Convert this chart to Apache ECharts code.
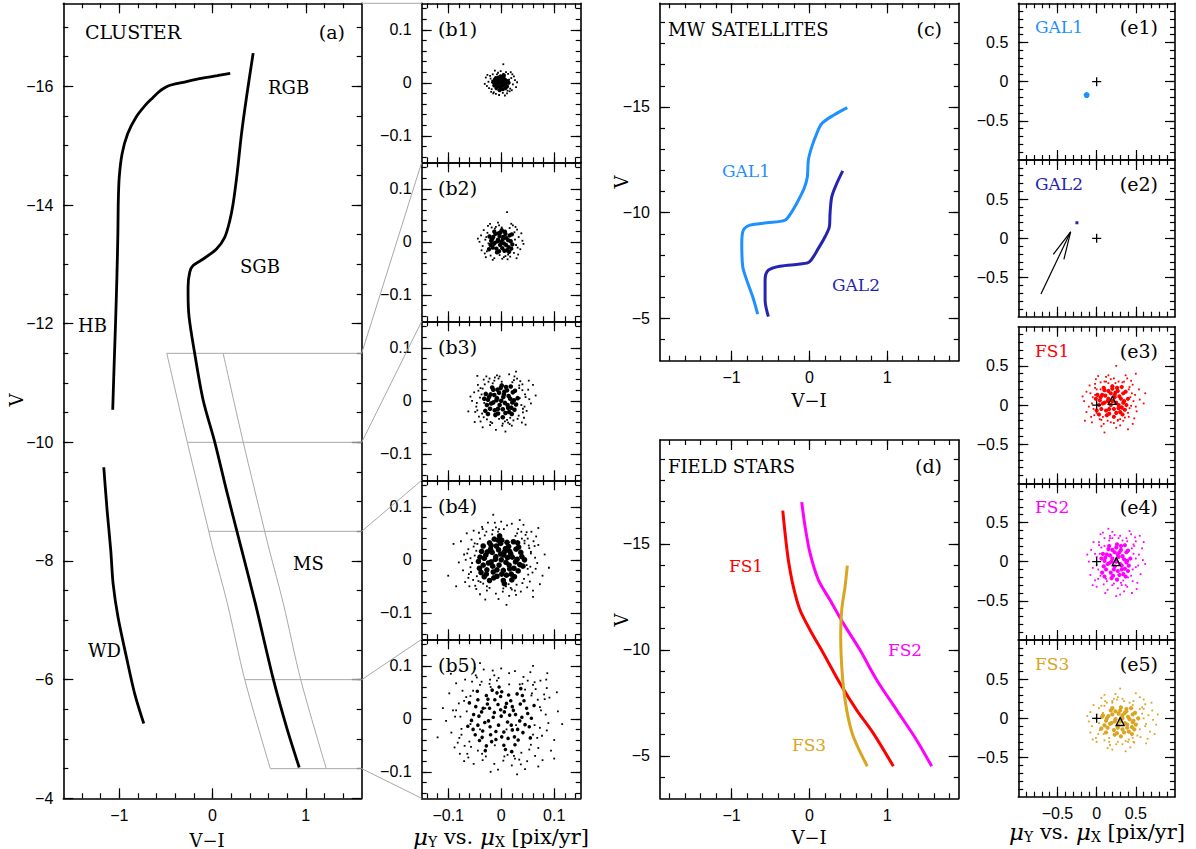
<!DOCTYPE html>
<html><head><meta charset="utf-8">
<script src="https://cdn.jsdelivr.net/npm/echarts@6.0.0/dist/echarts.min.js"></script>
<style>html,body{margin:0;padding:0;background:#fff}#c{width:1196px;height:849px}</style>
</head><body><div id="c"></div><script>
// ---------------- DATA ----------------
// Panel (a) CLUSTER: [V-I, V]
const aXRange = [-1.6, 1.6];
const aYRange = [-17.4, -4];
const aXLabels = [-1, 0, 1];
const aYLabels = [-16, -14, -12, -10, -8, -6, -4];
const aHB = [[0.19,-16.22],[0.05,-16.18],[-0.14,-16.13],[-0.28,-16.08],[-0.4,-16.04],[-0.47,-16.01],[-0.53,-15.96],[-0.58,-15.9],[-0.64,-15.81],[-0.71,-15.7],[-0.82,-15.48],[-0.91,-15.2],[-0.97,-14.86],[-1.0,-14.47],[-1.01,-14.08],[-1.015,-13.5],[-1.025,-12.8],[-1.04,-12.0],[-1.055,-11.3],[-1.07,-10.55]];
const aMain = [[0.436,-16.56],[0.365,-15.82],[0.311,-15.2],[0.264,-14.53],[0.221,-14.02],[0.186,-13.74],[0.132,-13.46],[0.043,-13.26],[-0.1,-13.09],[-0.208,-12.98],[-0.244,-12.87],[-0.262,-12.62],[-0.262,-12.5],[-0.251,-12.11],[-0.19,-11.49],[-0.1,-10.71],[0.025,-10.0],[0.15,-9.19],[0.311,-8.2],[0.46,-7.28],[0.65,-6.02],[0.794,-5.2],[0.93,-4.52]];
const aWD = [[-1.166,-9.58],[-1.13,-8.85],[-1.091,-8.18],[-1.066,-7.62],[-1.013,-7.05],[-0.923,-6.38],[-0.834,-5.76],[-0.737,-5.26]];
const aBoxLeft = [[-0.49,-11.5],[-0.27,-10],[-0.04,-8.5],[0.006,-8.2],[0.16,-7.28],[0.346,-6.0],[0.62,-4.5]];
const aBoxRight = [[0.114,-11.5],[0.33,-10],[0.56,-8.5],[0.607,-8.2],[0.76,-7.28],[0.946,-6.0],[1.22,-4.5]];
const aLevels = [-11.5, -10, -8.5, -6, -4.5];
const aLevelLeftX = [-0.49, -0.27, -0.04, 0.346, 0.62];

// Panels (b1)-(b5): proper motions [pix/yr]
const bRange = [-0.15, 0.15];
const bLabels = [-0.1, 0, 0.1];
const b1Core = [[-0.003,0.0],[0.002,0.003],[-0.008,0.004],[0.005,-0.004],[-0.006,-0.006],[0.0,0.008],[-0.011,-0.001],[0.007,0.006],[-0.002,-0.009],[0.009,-0.001],[-0.005,0.01],[0.004,0.011],[-0.012,0.006],[0.011,-0.007],[-0.009,-0.01],[0.001,-0.005],[-0.004,0.005],[0.006,0.0],[-0.013,-0.005],[0.012,0.003],[-0.001,0.012],[0.003,-0.012],[-0.007,0.0],[0.008,-0.01],[-0.01,0.009],[0.0,-0.001],[-0.015,0.001],[0.014,0.0],[-0.003,-0.014],[0.005,0.014]];
const b1Halo = [[-0.02,0.008],[0.017,-0.011],[-0.018,-0.012],[0.019,0.009],[-0.024,0.002],[0.022,-0.003],[-0.006,0.019],[0.003,-0.019],[-0.016,0.016],[0.013,0.017],[-0.014,-0.018],[0.016,-0.016],[-0.027,-0.006],[0.026,0.005],[-0.01,-0.021],[0.009,0.02],[-0.021,0.013],[0.02,-0.014],[-0.029,0.01],[0.024,0.012],[-0.001,0.022],[-0.004,-0.023],[0.018,0.02],[-0.019,-0.017],[0.028,-0.008],[-0.031,-0.002],[0.007,-0.024],[-0.012,0.023],[0.015,0.006],[-0.017,0.004],[0.011,-0.02],[-0.023,-0.01],[0.021,0.016],[-0.008,0.016],[0.004,0.017],[-0.026,0.015],[0.03,0.001],[-0.015,-0.02],[0.012,-0.015],[0.004,0.035]];
const b2Core = [[0,0],[-0.006,0.004],[0.005,-0.003],[-0.012,-0.002],[0.01,0.007],[-0.003,0.011],[0.002,-0.012],[-0.015,0.009],[0.014,-0.01],[-0.009,-0.013],[0.008,0.015],[-0.019,0.002],[0.018,0.001],[-0.001,0.018],[-0.004,-0.018],[0.013,0.003],[-0.011,0.015],[0.016,0.012],[-0.016,-0.011],[0.006,-0.017],[-0.007,0.001],[0.003,0.005],[-0.02,-0.006],[0.021,-0.005],[-0.002,-0.006],[0.011,-0.016],[-0.013,0.019],[0.001,0.022],[-0.022,0.01],[0.02,0.014],[-0.008,-0.02],[0.015,-0.019],[0.009,-0.006],[-0.017,0.005],[0.004,0.009],[-0.005,0.016],[0.019,-0.013],[-0.023,-0.014],[0.007,0.019],[-0.014,-0.004]];
const b2Halo = [[-0.03,0.004],[0.028,-0.006],[-0.026,0.017],[0.025,0.018],[-0.027,-0.018],[0.024,-0.021],[-0.01,0.028],[0.008,-0.027],[-0.035,-0.008],[0.033,0.009],[-0.018,0.027],[0.016,0.026],[-0.02,-0.026],[0.017,-0.028],[-0.038,0.012],[0.036,-0.014],[-0.004,0.031],[0.002,-0.032],[-0.031,-0.022],[0.03,0.023],[-0.041,0.0],[0.04,0.002],[-0.025,0.03],[0.022,0.031],[-0.013,-0.031],[0.012,-0.033],[-0.033,0.022],[0.032,-0.024],[-0.006,0.036],[0.005,-0.029],[-0.029,-0.029],[0.027,0.028],[-0.037,-0.016],[0.038,0.016],[-0.021,0.034],[0.029,-0.031],[-0.044,0.006],[0.042,-0.004],[-0.016,-0.034],[0.019,0.034],[0.011,0.056],[-0.024,-0.003],[0.026,0.004],[-0.012,0.025],[0.013,-0.024],[-0.028,0.009],[0.031,-0.011],[-0.003,-0.025],[0.001,0.027]];
const b3Core = [[0,0],[-0.008,0.005],[0.007,-0.004],[-0.015,-0.003],[0.014,0.009],[-0.004,0.015],[0.003,-0.016],[-0.02,0.012],[0.019,-0.013],[-0.012,-0.018],[0.011,0.02],[-0.025,0.002],[0.024,0.001],[-0.001,0.024],[-0.006,-0.024],[0.017,0.004],[-0.015,0.021],[0.022,0.016],[-0.021,-0.015],[0.008,-0.023],[-0.009,0.001],[0.004,0.007],[-0.027,-0.008],[0.028,-0.007],[-0.003,-0.008],[0.015,-0.021],[-0.017,0.025],[0.001,0.029],[-0.029,0.013],[0.026,0.019],[-0.011,-0.027],[0.02,-0.025],[0.012,-0.008],[-0.023,0.007],[0.005,0.012],[-0.007,0.021],[0.025,-0.017],[-0.03,-0.019],[0.009,0.026],[-0.019,-0.005],[0.031,0.005],[-0.032,0.004],[0.003,-0.031],[-0.013,0.011],[0.013,-0.013],[0.018,0.027],[-0.025,-0.025],[-0.006,-0.015],[0.006,0.017],[0.021,-0.003]];
const b3Halo = [[-0.04,0.006],[0.038,-0.008],[-0.035,0.023],[0.034,0.024],[-0.036,-0.024],[0.033,-0.028],[-0.013,0.038],[0.011,-0.036],[-0.047,-0.011],[0.045,0.012],[-0.024,0.036],[0.021,0.035],[-0.027,-0.035],[0.023,-0.037],[-0.051,0.016],[0.048,-0.019],[-0.005,0.042],[0.003,-0.043],[-0.042,-0.03],[0.04,0.031],[-0.055,0.0],[0.053,0.003],[-0.033,0.04],[0.03,0.042],[-0.017,-0.042],[0.016,-0.044],[-0.044,0.03],[0.043,-0.032],[-0.008,0.048],[0.007,-0.039],[-0.039,-0.039],[0.036,0.037],[-0.049,-0.021],[0.051,0.021],[-0.028,0.046],[0.039,-0.041],[-0.058,0.008],[0.056,-0.005],[-0.021,-0.046],[0.025,0.046],[-0.032,-0.004],[0.035,0.005],[-0.016,0.033],[0.017,-0.032],[-0.037,0.012],[0.041,-0.015],[-0.004,-0.034],[0.001,0.036],[0.06,0.03],[-0.05,-0.04],[-0.062,-0.02],[0.028,0.055],[-0.01,-0.055],[0.046,-0.045],[0.065,0.01],[-0.045,0.047],[0.015,0.05],[-0.035,-0.05],[0.052,0.038],[0.008,-0.058],
  [-0.043,0.019],[0.041,-0.022],[-0.02,-0.04],[0.024,0.039],[-0.046,-0.004],[0.046,0.007],[0.002,-0.047],[-0.003,0.046],[-0.033,-0.031],[0.034,0.029],[-0.031,0.031],[0.031,-0.034],[-0.039,0.024],[0.04,0.02],[-0.012,0.044],[0.013,-0.041],[-0.045,-0.018],[0.044,-0.011],[-0.022,0.042],[0.02,-0.047]];
const b4Core = [[0,0],[-0.01,0.006],[0.009,-0.005],[-0.019,-0.004],[0.018,0.011],[-0.005,0.019],[0.004,-0.02],[-0.026,0.015],[0.024,-0.016],[-0.015,-0.023],[0.014,0.025],[-0.032,0.003],[0.03,0.001],[-0.001,0.031],[-0.008,-0.031],[0.021,0.005],[-0.019,0.027],[0.028,0.02],[-0.027,-0.019],[0.01,-0.029],[-0.011,0.001],[0.005,0.009],[-0.034,-0.01],[0.035,-0.009],[-0.004,-0.01],[0.019,-0.027],[-0.022,0.032],[0.001,0.037],[-0.037,0.016],[0.033,0.024],[-0.014,-0.034],[0.025,-0.032],[0.015,-0.01],[-0.029,0.009],[0.006,0.015],[-0.009,0.026],[0.032,-0.021],[-0.038,-0.024],[0.011,0.033],[-0.024,-0.006],[0.039,0.006],[-0.04,0.005],[0.004,-0.039],[-0.017,0.014],[0.016,-0.017],[0.023,0.034],[-0.032,-0.032],[-0.008,-0.019],[0.008,0.021],[0.027,-0.004],[-0.013,0.039],[0.041,-0.012],[-0.043,-0.003],[-0.02,0.02],[0.02,-0.038],[-0.003,0.045],[0.037,0.014],[-0.028,-0.027],[0.012,0.004],[-0.016,-0.012],[0.031,0.032],[-0.034,0.026],[0.001,-0.027],[-0.006,0.037],[0.016,0.016],[-0.041,-0.016],[0.044,0.0],[-0.022,-0.039],[0.006,-0.045],[-0.001,0.011]];
const b4Halo = [[-0.05,0.008],[0.048,-0.01],[-0.045,0.03],[0.044,0.031],[-0.046,-0.031],[0.043,-0.036],[-0.017,0.048],[0.014,-0.046],[-0.058,-0.014],[0.056,0.015],[-0.031,0.046],[0.027,0.045],[-0.034,-0.045],[0.029,-0.047],[-0.062,0.02],[0.059,-0.024],[-0.006,0.053],[0.004,-0.054],[-0.053,-0.038],[0.05,0.04],[-0.067,0.0],[0.064,0.004],[-0.042,0.051],[0.038,0.053],[-0.022,-0.053],[0.02,-0.056],[-0.056,0.038],[0.054,-0.041],[-0.01,0.061],[0.009,-0.05],[-0.049,-0.049],[0.046,0.047],[-0.061,-0.027],[0.063,0.026],[-0.035,0.058],[0.049,-0.052],[-0.07,0.01],[0.068,-0.006],[-0.027,-0.058],[0.032,0.058],[-0.072,-0.02],[0.07,0.028],[-0.052,0.055],[0.057,0.053],[-0.06,-0.05],[0.06,-0.058],[-0.012,0.07],[0.015,-0.068],[-0.076,0.035],[0.078,-0.03],[-0.04,-0.065],[0.042,0.066],[-0.08,-0.005],[0.082,0.01],[0.0,0.072],[-0.005,-0.074],[-0.065,0.05],[0.066,0.044],[-0.068,-0.042],[0.073,-0.046],[0.02,0.068],[-0.025,0.07],[0.028,-0.066],[-0.047,0.017],[0.05,-0.017],[-0.055,-0.006],[0.053,0.022],[-0.039,-0.042],[0.039,0.04],[0.005,0.058],[-0.09,0.03],[0.09,-0.015],[-0.03,-0.075],[0.035,0.075],[-0.1,-0.03],[0.07,0.06],[-0.015,0.085],[0.01,-0.085],[-0.085,-0.05],[0.06,-0.07],
  [-0.052,0.025],[0.051,-0.028],[-0.027,-0.05],[0.03,0.05],[-0.058,0.003],[0.056,0.012],[0.003,-0.06],[-0.004,0.058],[-0.043,-0.04],[0.044,0.036],[-0.04,0.04],[0.04,-0.044],[-0.05,0.031],[0.052,0.027],[-0.016,0.056],[0.018,-0.053],[-0.057,-0.023],[0.055,-0.013],[-0.028,0.053],[0.026,-0.058],[-0.062,-0.034],[0.061,0.035],[-0.036,0.062],[0.037,-0.06],[-0.064,0.012],[0.065,-0.017],[-0.01,-0.064],[0.011,0.065],[-0.047,-0.055],[0.048,0.052]];
const b5Core = [[0,0.005],[-0.013,0.012],[0.012,-0.006],[-0.024,-0.004],[0.023,0.016],[-0.006,0.027],[0.005,-0.025],[-0.034,0.02],[0.031,-0.02],[-0.02,-0.03],[0.018,0.034],[-0.042,0.005],[0.039,0.003],[-0.001,0.042],[-0.01,-0.039],[0.027,0.008],[-0.025,0.037],[0.036,0.028],[-0.035,-0.023],[0.013,-0.037],[-0.015,0.003],[0.006,0.013],[-0.044,-0.012],[0.045,-0.011],[-0.005,-0.012],[0.025,-0.034],[-0.028,0.044],[0.001,0.051],[-0.048,0.023],[0.043,0.034],[-0.018,-0.043],[0.032,-0.04],[0.019,-0.012],[-0.037,0.013],[0.008,0.022],[-0.012,0.036],[0.041,-0.026],[-0.049,-0.03],[0.014,0.045],[-0.031,-0.007],[0.05,0.01],[-0.052,0.008],[0.005,-0.05],[-0.022,0.02],[0.021,-0.021],[0.03,0.047],[-0.041,-0.041],[-0.01,-0.024],[0.01,0.029],[0.035,-0.004],[-0.017,0.054],[0.053,-0.015],[-0.056,-0.003],[-0.026,0.028],[0.026,-0.049],[-0.004,0.06],[0.048,0.02],[-0.036,-0.035],[0.016,0.007],[-0.021,-0.015],[0.04,0.044],[-0.044,0.036],[0.001,-0.034],[-0.008,0.049],[0.021,0.023],[-0.053,-0.02],[0.057,0.001],[-0.028,-0.051],[0.008,-0.058],[-0.001,0.017],[0.055,-0.036],[-0.06,0.03],[0.037,0.057],[-0.045,0.052],[0.062,0.025],[-0.03,-0.06],[0.02,-0.062],[-0.063,-0.014]];
const b5Halo = [[-0.065,0.014],[0.063,-0.012],[-0.058,0.043],[0.057,0.044],[-0.06,-0.043],[0.056,-0.049],[-0.022,0.066],[0.018,-0.062],[-0.075,-0.019],[0.073,0.022],[-0.04,0.064],[0.035,0.065],[-0.044,-0.06],[0.038,-0.064],[-0.08,0.029],[0.077,-0.032],[-0.008,0.072],[0.006,-0.071],[-0.069,-0.051],[0.065,0.056],[-0.087,0.004],[0.084,0.008],[-0.055,0.07],[0.05,0.072],[-0.029,-0.071],[0.026,-0.075],[-0.073,0.053],[0.07,-0.055],[-0.013,0.082],[0.012,-0.068],[-0.064,-0.066],[0.06,0.064],[-0.079,-0.036],[0.082,0.037],[-0.046,0.078],[0.064,-0.07],[-0.091,0.016],[0.089,-0.008],[-0.035,-0.078],[0.042,0.079],[-0.094,-0.026],[0.091,0.04],[-0.068,0.074],[0.074,0.072],[-0.078,-0.066],[0.078,-0.078],[-0.016,0.091],[0.02,-0.088],[-0.098,0.048],[0.1,-0.04],[-0.052,-0.085],[0.055,0.088],[-0.104,-0.004],[0.107,0.014],[0.0,0.095],[-0.006,-0.096],[-0.085,0.067],[0.086,0.058],[-0.088,-0.054],[0.094,-0.06],[0.026,0.09],[-0.033,0.093],[0.037,-0.086],[-0.11,0.02],[0.085,0.074],[-0.02,-0.1],[-0.05,0.095],[0.115,-0.01],[-0.07,-0.08],[0.045,-0.095],[0.06,0.1],[-0.12,-0.035],[0.105,0.05],[-0.095,0.085],[0.07,-0.09],[0.087,0.086],[-0.04,0.105],[0.03,-0.105],[-0.075,0.09],[0.1,-0.075],
  [-0.07,0.034],[0.068,-0.036],[-0.036,-0.066],[0.04,0.066],[-0.077,0.004],[0.075,0.016],[0.004,-0.079],[-0.005,0.077],[-0.057,-0.053],[0.058,0.048],[-0.053,0.053],[0.053,-0.058],[-0.066,0.041],[0.069,0.036],[-0.021,0.074],[0.024,-0.07],[-0.075,-0.03],[0.073,-0.017],[-0.037,0.07],[0.034,-0.077],[-0.082,-0.045],[0.081,0.046],[-0.048,0.082],[0.049,-0.08],[-0.085,0.016],[0.086,-0.022],[-0.013,-0.085],[0.015,0.086],[-0.062,-0.073],[0.063,0.069],[-0.03,0.02],[0.028,-0.012],[-0.012,-0.05],[0.045,0.055],[-0.058,-0.01],[0.06,-0.03],[0.015,0.065],[-0.04,-0.02],[0.01,-0.02],[-0.02,0.06]];

// Panel (c) MW SATELLITES and (d) FIELD STARS: [V-I, V]
const cdXRange = [-1.92, 1.92];
const cdYRange = [-19.9, -3];
const cdXLabels = [-1, 0, 1];
const cdYLabels = [-15, -10, -5];
const cGAL1 = [[0.488,-14.97],[0.31,-14.61],[0.159,-14.21],[0.095,-13.74],[0.031,-13.11],[-0.013,-12.48],[-0.026,-11.69],[-0.068,-11.14],[-0.141,-10.59],[-0.226,-10.04],[-0.312,-9.65],[-0.548,-9.52],[-0.762,-9.41],[-0.848,-9.17],[-0.869,-8.54],[-0.856,-7.44],[-0.805,-6.81],[-0.728,-6.02],[-0.664,-5.2]];
const cGAL2 = [[0.429,-11.98],[0.352,-11.38],[0.288,-10.75],[0.266,-9.96],[0.257,-9.33],[0.202,-8.86],[0.116,-8.31],[0.0,-7.67],[-0.12,-7.57],[-0.377,-7.47],[-0.527,-7.28],[-0.569,-6.81],[-0.569,-5.87],[-0.527,-5.08]];
const dFS1 = [[-0.342,-16.57],[-0.312,-15.5],[-0.27,-14.24],[-0.206,-12.98],[-0.12,-11.88],[0.009,-10.94],[0.18,-9.84],[0.395,-8.42],[0.609,-7.16],[0.823,-6.06],[1.08,-4.51]];
const dFS2 = [[-0.098,-16.97],[-0.055,-15.82],[0.009,-14.56],[0.116,-13.3],[0.266,-12.35],[0.437,-11.25],[0.652,-9.99],[0.866,-8.58],[1.123,-7.16],[1.38,-5.74],[1.573,-4.51]];
const dFS3 = [[0.488,-13.97],[0.459,-12.98],[0.416,-11.88],[0.403,-10.62],[0.429,-8.58],[0.48,-7.16],[0.566,-5.9],[0.745,-4.51]];

// Panels (e1)-(e5): proper motions [pix/yr]
const eRange = [-1, 1];
const eLabels = [-0.5, 0, 0.5];
const eOrigin = [[0, 0]];
const eGAL1 = [[-0.128,-0.171]];
const eGAL2 = [[-0.252,0.199]];
const eArrowShaft = [[-0.711,-0.711],[-0.332,0.084]];
const eArrowHead = [[-0.554,-0.204],[-0.332,0.084],[-0.418,-0.268]];
const eFS1Mean = [[0.2,0.06]];
const eFS2Mean = [[0.25,0.0]];
const eFS3Mean = [[0.3,-0.04]];
const eFS1Core = [[0.2,0.05],[0.15,0.08],[0.25,0.03],[0.1,0.03],[0.29,0.11],[0.18,0.15],[0.22,-0.05],[0.07,0.13],[0.32,-0.03],[0.12,-0.07],[0.27,0.18],[0.04,0.06],[0.35,0.05],[0.2,0.21],[0.16,-0.11],[0.31,0.08],[0.1,0.19],[0.34,0.15],[0.06,-0.05],[0.25,-0.1],[0.14,0.05],[0.23,0.1],[0.03,0.0],[0.38,0.0],[0.18,0.0],[0.3,-0.09],[0.09,0.22],[0.2,0.24],[0.01,0.13],[0.37,0.17],[0.13,-0.13],[0.33,-0.12],[0.28,0.0],[0.05,0.1],[0.23,0.13],[0.15,0.18],[0.36,-0.06],[0.0,-0.07],[0.26,0.22],[0.08,0.02],[0.4,0.08],[-0.01,0.08],[0.22,-0.15],[0.11,0.12],[0.28,-0.04],[0.32,0.23],[0.03,-0.12],[0.16,-0.05],[0.24,0.16],[0.34,0.03]];
const eFS1Halo = [[-0.05,0.1],[0.44,-0.01],[-0.02,0.22],[0.42,0.23],[-0.03,-0.13],[0.41,-0.15],[0.12,0.3],[0.27,-0.19],[-0.1,-0.02],[0.49,0.13],[0.05,0.29],[0.33,0.29],[0.04,-0.18],[0.34,-0.2],[-0.13,0.17],[0.51,-0.08],[0.18,0.33],[0.22,-0.23],[-0.07,-0.15],[0.46,0.26],[-0.16,0.05],[0.55,0.07],[-0.01,0.33],[0.39,0.34],[0.09,-0.24],[0.3,-0.26],[-0.09,0.25],[0.48,-0.17],[0.15,0.38],[0.25,-0.29],[-0.06,-0.22],[0.44,0.31],[-0.13,-0.09],[0.54,0.2],[0.02,0.37],[0.46,-0.24],[-0.18,0.11],[0.6,0.02],[0.06,-0.27],[0.37,0.38],[0.62,0.15],[-0.15,-0.2],[0.25,0.5],[0.5,0.4],[0.1,-0.35],[0.4,-0.31],
  [-0.02,0.13],[0.42,-0.04],[0.06,-0.19],[0.35,0.3],[-0.06,0.02],[0.47,0.05],[0.18,-0.22],[0.22,0.34],[0.0,-0.1],[0.41,0.2],[-0.02,0.27],[0.4,-0.1],[0.1,0.3],[0.3,-0.18],[-0.08,0.15],[0.5,-0.02],[0.15,0.28],[0.27,-0.2],[0.0,0.2],[0.45,0.15],[0.08,-0.15],[0.36,-0.16],[0.12,0.36],[0.28,0.3],[-0.04,-0.05],[0.43,0.1],[0.05,0.2],[0.33,-0.05],[0.14,-0.2],[0.24,0.28]];
const eFS2Core = [[0.25,0.0],[0.2,0.04],[0.3,-0.03],[0.16,-0.02],[0.33,0.07],[0.23,0.12],[0.27,-0.12],[0.13,0.09],[0.36,-0.09],[0.18,-0.14],[0.31,0.15],[0.1,0.01],[0.39,0.01],[0.25,0.18],[0.21,-0.18],[0.35,0.03],[0.15,0.16],[0.38,0.12],[0.12,-0.1],[0.29,-0.17],[0.19,0.0],[0.28,0.06],[0.09,-0.06],[0.41,-0.05],[0.23,-0.06],[0.34,-0.16],[0.16,0.2],[0.26,0.22],[0.08,0.1],[0.4,0.14],[0.19,-0.21],[0.37,-0.19],[0.32,-0.05],[0.11,0.05],[0.27,0.09],[0.2,0.15],[0.4,-0.12],[0.07,-0.14],[0.31,0.2],[0.14,-0.03],[0.43,0.04],[0.06,0.04],[0.26,-0.23],[0.17,0.08],[0.32,-0.1],[0.36,0.21],[0.1,-0.19],[0.22,-0.1],[0.29,0.12],[0.38,-0.01]];
const eFS2Halo = [[0.0,0.06],[0.5,-0.07],[0.03,0.21],[0.47,0.22],[0.02,-0.22],[0.46,-0.25],[0.17,0.3],[0.32,-0.3],[-0.05,-0.08],[0.54,0.09],[0.1,0.3],[0.38,0.3],[0.09,-0.29],[0.39,-0.32],[-0.07,0.15],[0.56,-0.16],[0.23,0.34],[0.27,-0.34],[-0.02,-0.24],[0.5,0.26],[-0.1,0.0],[0.59,0.02],[0.05,0.35],[0.44,0.35],[0.14,-0.36],[0.35,-0.38],[-0.04,0.25],[0.52,-0.27],[0.2,0.38],[0.3,-0.42],[0.0,-0.32],[0.49,0.31],[-0.08,-0.17],[0.58,0.17],[0.08,0.37],[0.51,-0.35],[-0.12,0.09],[0.62,-0.03],[0.11,-0.4],[0.42,0.39],[0.6,0.25],[-0.05,-0.3],[0.25,-0.44],[0.55,0.33],[0.15,0.42],[0.45,-0.4],
  [0.04,0.1],[0.46,-0.1],[0.12,-0.22],[0.39,0.26],[0.0,-0.04],[0.5,0.04],[0.22,-0.28],[0.28,0.3],[0.05,-0.18],[0.45,0.17],[0.03,0.25],[0.44,-0.18],[0.16,0.27],[0.34,-0.24],[-0.02,0.1],[0.53,-0.05],[0.2,0.3],[0.31,-0.27],[0.06,0.18],[0.47,0.1],[0.13,-0.25],[0.4,-0.2],[0.17,0.33],[0.33,0.27],[0.02,-0.1],[0.48,0.2],[0.1,0.2],[0.37,-0.3],[0.2,-0.3],[0.3,0.33]];
const eFS3Core = [[0.3,-0.04],[0.24,-0.01],[0.36,-0.06],[0.19,-0.06],[0.4,0.02],[0.28,0.06],[0.33,-0.14],[0.15,0.03],[0.45,-0.11],[0.22,-0.15],[0.38,0.09],[0.12,-0.03],[0.47,-0.03],[0.3,0.1],[0.26,-0.19],[0.42,-0.01],[0.18,0.1],[0.46,0.05],[0.14,-0.12],[0.35,-0.18],[0.23,-0.04],[0.33,0.0],[0.1,-0.09],[0.5,-0.08],[0.27,-0.09],[0.41,-0.17],[0.2,0.13],[0.31,0.14],[0.08,0.04],[0.49,0.07],[0.23,-0.21],[0.45,-0.2],[0.39,-0.08],[0.13,0.0],[0.33,0.04],[0.24,0.09],[0.48,-0.14],[0.06,-0.13],[0.38,0.12],[0.17,-0.07],[0.53,0.0],[0.07,0.02],[0.31,-0.23],[0.2,0.05],[0.39,-0.12],[0.44,0.13],[0.12,-0.18],[0.27,-0.12],[0.36,0.07],[0.46,-0.05]];
const eFS3Halo = [[-0.02,0.0],[0.62,-0.1],[0.03,0.13],[0.58,0.14],[0.02,-0.2],[0.56,-0.24],[0.2,0.22],[0.4,-0.3],[-0.06,-0.1],[0.66,0.04],[0.11,0.22],[0.47,0.22],[0.1,-0.28],[0.48,-0.31],[-0.08,0.08],[0.68,-0.17],[0.27,0.27],[0.33,-0.33],[-0.01,-0.25],[0.62,0.18],[-0.1,-0.04],[0.72,-0.02],[0.06,0.26],[0.55,0.27],[0.17,-0.34],[0.43,-0.37],[-0.04,0.17],[0.65,-0.26],[0.24,0.31],[0.37,-0.42],[0.0,-0.3],[0.6,0.24],[-0.08,-0.18],[0.71,0.1],[0.1,0.3],[0.63,-0.32],[-0.12,0.03],[0.76,-0.08],[0.14,-0.38],[0.5,0.32],[0.78,0.05],[-0.05,-0.27],[0.3,0.38],[0.7,0.2],[0.2,-0.4],[0.74,-0.2],
  [0.08,0.07],[0.55,-0.14],[0.16,-0.25],[0.46,0.17],[0.03,-0.06],[0.6,0.0],[0.27,-0.3],[0.35,0.22],[0.09,-0.2],[0.55,0.12],[0.06,0.16],[0.52,-0.22],[0.2,0.2],[0.41,-0.27],[0.0,0.05],[0.63,-0.07],[0.26,0.24],[0.37,-0.29],[0.1,0.16],[0.58,0.06],[0.16,-0.3],[0.46,-0.25],[0.22,0.25],[0.42,0.2],[0.04,-0.15],[0.6,0.12],[0.13,0.2],[0.47,-0.3],[0.25,-0.33],[0.33,0.25]];

// ---------------- STYLE / LAYOUT ----------------
const SANS = "'Liberation Sans', Arial, sans-serif";
const SERIF = "'DejaVu Serif', serif";
const C_GAL1 = '#1e90ff', C_GAL2 = '#2424b0', C_FS1 = '#ff0000', C_FS2 = '#ff00ff', C_FS3 = '#daa520';
function fmt(v){ const s = String(Math.round(v*1000)/1000); return s.replace('-', '\u2212'); }
function steps(a,b,s){ const o=[]; const n=Math.round((b-a)/s); for(let i=0;i<=n;i++) o.push(Math.round((a+i*s)*1e6)/1e6); return o; }

const grids=[], xAxes=[], yAxes=[], series=[];
function axisSet(list, dim, gi, range, inv, major, minor, labels, showLab, posA, posB){
  const base = () => ({type:'value', gridIndex:gi, min:range[0], max:range[1], inverse:!!inv, splitLine:{show:false}, axisPointer:{show:false}, silent:true});
  const idx = list.length;
  const lineOn = {show:true, onZero:false, lineStyle:{color:'#000', width:1.6}};
  const lineOff = {show:false, onZero:false};
  const tk = (len, vals) => ({show:true, inside:true, length:len, customValues:vals, lineStyle:{color:'#000', width:1.2}});
  list.push(Object.assign(base(), {position:posA, axisLine:lineOn, axisTick:tk(10, major),
    axisLabel:{show:showLab, customValues:labels, formatter:fmt, color:'#000', fontSize:16, fontFamily:SANS, margin: dim==='x'?9:10}}));
  list.push(Object.assign(base(), {position:posA, axisLine:lineOff, axisTick:tk(5, minor), axisLabel:{show:false}}));
  list.push(Object.assign(base(), {position:posB, axisLine:lineOn, axisTick:tk(10, major), axisLabel:{show:false}}));
  list.push(Object.assign(base(), {position:posB, axisLine:lineOff, axisTick:tk(5, minor), axisLabel:{show:false}}));
  return idx;
}
function panel(rect, xr, yr, yInv, xMaj, xMin, yMaj, yMin, showX, showY){
  const gi = grids.length;
  grids.push({left:rect[0], top:rect[1], width:rect[2], height:rect[3], containLabel:false, outerBoundsMode:'none', show:false});
  const xi = axisSet(xAxes,'x',gi,xr,false,xMaj,xMin,xMaj,showX,'bottom','top');
  const yi = axisSet(yAxes,'y',gi,yr,yInv,yMaj,yMin,yMaj,showY,'left','right');
  return {gi, xi, yi};
}
function line(p, data, color, width, smooth, z){
  series.push({type:'line', xAxisIndex:p.xi, yAxisIndex:p.yi, data, symbol:'none', showSymbol:false, smooth: smooth||0,
    lineStyle:{color, width, opacity:1}, silent:true, animation:false, z: z||3, clip:false});
}
function dots(p, data, color, size, symbol, z){
  series.push({type:'scatter', xAxisIndex:p.xi, yAxisIndex:p.yi, data, symbol: symbol||'circle', symbolSize:size,
    itemStyle:{color, opacity:1}, silent:true, animation:false, z: z||2});
}
function openMark(p, data, symbol, size){
  series.push({type:'scatter', xAxisIndex:p.xi, yAxisIndex:p.yi, data, symbol, symbolSize:size,
    itemStyle:{color:'transparent', borderColor:'#000', borderWidth:1.3, opacity:1}, silent:true, animation:false, z:5});
}
const PLUS = 'path://M0,5L10,5M5,0L5,10';

// Panel (a)
const A = panel([63.3,3.3,298.4,795], aXRange, aYRange, true, aXLabels, steps(-1.4,1.4,0.2), aYLabels, steps(-17,-4.5,0.5), true, true);
line(A, aBoxLeft, '#a8a8a8', 1, 0.3, 2);
line(A, aBoxRight, '#a8a8a8', 1, 0.3, 2);
aLevels.forEach((v,i) => line(A, [[aLevelLeftX[i], v],[aXRange[1], v]], '#a8a8a8', 1, 0, 2));
line(A, aHB, '#000', 2.8, 0.3);
line(A, aMain, '#000', 2.8, 0.3);
line(A, aWD, '#000', 2.8, 0.3);

// Panels (b)
const bCores = [b1Core,b2Core,b3Core,b4Core,b5Core];
const bHalos = [b1Halo,b2Halo,b3Halo,b4Halo,b5Halo];
const bCoreSize = [4.2,4.4,4.6,5.6,3.6];
const B = [];
for (let i=0;i<5;i++){
  const p = panel([421.7, 3.3+159*i, 159, 159], bRange, bRange, false, bLabels, steps(-0.14,0.14,0.02), bLabels, steps(-0.14,0.14,0.02), i===4, true);
  B.push(p);
  dots(p, bHalos[i], '#000', 1.8, 'rect');
  dots(p, bCores[i], '#000', bCoreSize[i], 'circle');
}

// Panel (c), (d)
const Cp = panel([660,3.3,298.7,357.4], cdXRange, cdYRange, true, cdXLabels, steps(-1.8,1.8,0.2), cdYLabels, steps(-19,-4,1), true, true);
line(Cp, cGAL1, C_GAL1, 3, 0.3);
line(Cp, cGAL2, C_GAL2, 3, 0.3);
const Dp = panel([660,440,298.7,358.3], cdXRange, cdYRange, true, cdXLabels, steps(-1.8,1.8,0.2), cdYLabels, steps(-19,-4,1), true, true);
line(Dp, dFS1, C_FS1, 3, 0.3);
line(Dp, dFS2, C_FS2, 3, 0.3);
line(Dp, dFS3, C_FS3, 3, 0.3);

// Panels (e)
const eTops = [3.3,160,326.7,483.3,640];
const E = eTops.map((t,i) => panel([1018.3, t, 156.7, 156.7], eRange, eRange, false, eLabels, steps(-0.9,0.9,0.1), eLabels, steps(-0.9,0.9,0.1), i===4, true));
dots(E[0], eGAL1, C_GAL1, 6, 'circle', 4);
dots(E[1], eGAL2, C_GAL2, 3, 'rect', 4);
line(E[1], eArrowShaft, '#000', 1.2, 0, 4);
line(E[1], eArrowHead, '#000', 1.2, 0, 4);
[[eFS1Core,eFS1Halo,C_FS1,eFS1Mean],[eFS2Core,eFS2Halo,C_FS2,eFS2Mean],[eFS3Core,eFS3Halo,C_FS3,eFS3Mean]].forEach((d,k) => {
  const p = E[2+k];
  dots(p, d[1], d[2], 1.8, 'rect');
  dots(p, d[0], d[2], 4.2, 'circle');
  openMark(p, d[3], 'triangle', 8);
});
E.forEach(p => openMark(p, eOrigin, PLUS, 9));

const chart = echarts.init(document.getElementById('c'), null, {renderer:'svg', width:1196, height:849});
chart.setOption({animation:false, backgroundColor:'#fff', grid:grids, xAxis:xAxes, yAxis:yAxes, series});

// ---------------- TEXTS & CONNECTORS ----------------
function txt(s, x, y, opt){
  opt = opt || {};
  const al = opt.align || 'left';
  const el = {type:'text', x, y, z:10, silent:true, rotation: opt.rot || 0,
    style:{text:s, fill: opt.color || '#000', font: (opt.size||18)+'px '+SERIF, textAlign:al, align:al, textVerticalAlign:'middle', verticalAlign:'middle'}};
  if (opt.rich) el.style.rich = opt.rich;
  return el;
}
const muRich = {mu:{fontStyle:'italic', fontSize:23, fontFamily:SERIF, fill:'#000'}, sub:{fontSize:14, fontFamily:SERIF, verticalAlign:'bottom', fill:'#000'}};
const muText = '{mu|\u03bc}{sub|Y} vs. {mu|\u03bc}{sub|X} [pix/yr]';
const gfx = [
  txt('CLUSTER', 85, 32, {size:19}), txt('(a)', 345, 32, {align:'right', size:19}),
  txt('RGB', 268, 87), txt('SGB', 240, 266), txt('HB', 78, 325), txt('MS', 293, 563), txt('WD', 88, 650),
  txt('V', 16, 400, {align:'center', rot:Math.PI/2}), txt('V\u2212I', 207, 840, {align:'center'}),
  txt(muText, 501, 837, {align:'center', size:21, rich:muRich}),
  txt('MW SATELLITES', 668, 29), txt('(c)', 942, 29, {align:'right', size:19}),
  txt('GAL1', 746, 171, {align:'center', color:C_GAL1, size:17}), txt('GAL2', 856, 285, {align:'center', color:C_GAL2, size:17}),
  txt('V', 621, 182, {align:'center', rot:Math.PI/2}), txt('V\u2212I', 809, 400, {align:'center'}),
  txt('FIELD STARS', 668, 466), txt('(d)', 942, 466, {align:'right', size:19}),
  txt('FS1', 746, 566, {align:'center', color:C_FS1, size:17}), txt('FS2', 905, 650, {align:'center', color:C_FS2, size:17}),
  txt('FS3', 809, 745, {align:'center', color:C_FS3, size:17}),
  txt('V', 621, 620, {align:'center', rot:Math.PI/2}), txt('V\u2212I', 809, 837, {align:'center'}),
  txt(muText, 1097, 832, {align:'center', size:21, rich:muRich})
];
const eNames = [['GAL1',C_GAL1],['GAL2',C_GAL2],['FS1',C_FS1],['FS2',C_FS2],['FS3',C_FS3]];
eTops.forEach((t,i) => { gfx.push(txt(eNames[i][0], 1035, t+24, {color:eNames[i][1], size:17})); gfx.push(txt('(e'+(i+1)+')', 1158, t+24, {align:'right', size:19})); });
for (let i=0;i<5;i++) gfx.push(txt('(b'+(i+1)+')', 438, 3.3+159*i+26, {size:19}));

const allLv = [aYRange[0]].concat(aLevels);
allLv.forEach((v,k) => {
  const p1 = chart.convertToPixel({xAxisIndex:A.xi, yAxisIndex:A.yi}, [aXRange[1], v]);
  const b = B[Math.max(0,k-1)];
  const p2 = chart.convertToPixel({xAxisIndex:b.xi, yAxisIndex:b.yi}, [bRange[0], k===0 ? bRange[1] : bRange[0]]);
  gfx.push({type:'line', z:1, silent:true, shape:{x1:p1[0], y1:p1[1], x2:p2[0], y2:p2[1]}, style:{stroke:'#a8a8a8', lineWidth:1}});
});
chart.setOption({graphic:{elements:gfx}});
</script></body></html>
